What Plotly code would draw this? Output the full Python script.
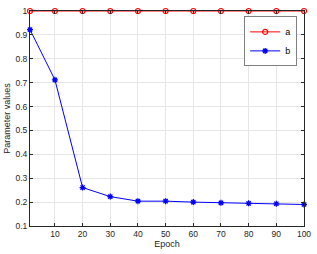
import plotly.graph_objects as go

epochs = [1, 10, 20, 30, 40, 50, 60, 70, 80, 90, 100]
a_values = [1.0, 1.0, 1.0, 1.0, 1.0, 1.0, 1.0, 1.0, 1.0, 1.0, 1.0]
b_values = [0.922, 0.712, 0.261, 0.223, 0.204, 0.204, 0.200, 0.197, 0.195, 0.193, 0.190]
x_ticks = [10, 20, 30, 40, 50, 60, 70, 80, 90, 100]
y_ticks = [0.1, 0.2, 0.3, 0.4, 0.5, 0.6, 0.7, 0.8, 0.9, 1.0]
y_ticktext = ["0.1", "0.2", "0.3", "0.4", "0.5", "0.6", "0.7", "0.8", "0.9", "1"]

fig = go.Figure()
fig.add_trace(go.Scatter(x=epochs, y=a_values, name="a", mode="lines+markers",
                         line=dict(color="#ff0000", width=1),
                         marker=dict(symbol="circle-open", size=5, color="#ff0000", line=dict(width=1.2)),
                         cliponaxis=False))
fig.add_trace(go.Scatter(x=epochs, y=b_values, name="b", mode="lines+markers",
                         line=dict(color="#0000ff", width=1),
                         marker=dict(symbol="asterisk-open", size=5, color="#0000ff", line=dict(width=1.3, color="#0000ff")),
                         cliponaxis=False))

axis_common = dict(showline=True, linecolor="#262626", linewidth=1, mirror="ticks",
                   ticks="inside", ticklen=3, tickcolor="#262626",
                   showgrid=True, gridcolor="#e6e6e6", gridwidth=1, zeroline=False,
                   tickfont=dict(size=8.5, color="#262626", family="Liberation Sans, Arial"))

fig.update_layout(
    width=317, height=254,
    margin=dict(l=30, r=10, t=6, b=28),
    paper_bgcolor="white", plot_bgcolor="white",
    font=dict(family="Liberation Sans, Arial", size=8.5, color="#262626"),
    xaxis=dict(range=[1, 100], tickvals=x_ticks,
               title=dict(text="Epoch", font=dict(size=9, color="#262626"), standoff=2),
               **axis_common),
    yaxis=dict(range=[0.1, 1.0], tickvals=y_ticks, ticktext=y_ticktext,
               title=dict(text="Parameter values", font=dict(size=9, color="#262626"), standoff=3),
               **axis_common),
    legend=dict(x=0.975, y=0.975, xanchor="right", yanchor="top",
                bgcolor="white", bordercolor="#808080", borderwidth=1,
                font=dict(size=9, color="#000000"),
                itemwidth=30, tracegroupgap=0),
    showlegend=True,
)

fig.write_html("out.html", config={"displayModeBar": False},
               post_script="document.body.style.margin='0';document.body.style.overflow='hidden';")
